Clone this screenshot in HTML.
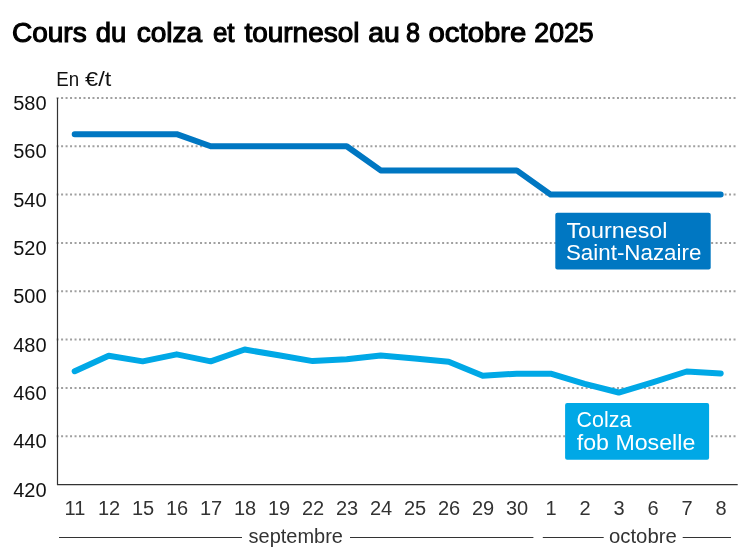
<!DOCTYPE html>
<html><head><meta charset="utf-8">
<style>
html,body{margin:0;padding:0;background:#fff;}
body{width:747px;height:558px;overflow:hidden;position:relative;}
svg{position:absolute;left:0;top:0;will-change:transform;}
text{font-family:"Liberation Sans",sans-serif;}
.title{font-size:27.5px;fill:#000;stroke:#000;stroke-width:1.1px;}
.unit{font-size:20px;fill:#111;}
.yl{font-size:20px;fill:#111;text-anchor:end;}
.xl{font-size:20px;fill:#333;text-anchor:middle;}
.ml{font-size:20px;fill:#333;}
.g{stroke:#a0a0a0;stroke-width:2;stroke-dasharray:2 2.483;}
.lab{font-size:21.5px;fill:#fff;}
</style></head><body>
<svg width="747" height="558" viewBox="0 0 747 558">
<line x1="56.6" y1="97.90" x2="737" y2="97.90" class="g"/>
<line x1="56.6" y1="146.24" x2="737" y2="146.24" class="g"/>
<line x1="56.6" y1="194.58" x2="737" y2="194.58" class="g"/>
<line x1="56.6" y1="242.91" x2="737" y2="242.91" class="g"/>
<line x1="56.6" y1="291.25" x2="737" y2="291.25" class="g"/>
<line x1="56.6" y1="339.59" x2="737" y2="339.59" class="g"/>
<line x1="56.6" y1="387.93" x2="737" y2="387.93" class="g"/>
<line x1="56.6" y1="436.26" x2="737" y2="436.26" class="g"/>

<text x="46.6" y="110.00" class="yl">580</text>
<text x="46.6" y="158.34" class="yl">560</text>
<text x="46.6" y="206.68" class="yl">540</text>
<text x="46.6" y="255.01" class="yl">520</text>
<text x="46.6" y="303.35" class="yl">500</text>
<text x="46.6" y="351.69" class="yl">480</text>
<text x="46.6" y="400.03" class="yl">460</text>
<text x="46.6" y="448.36" class="yl">440</text>
<text x="46.6" y="496.70" class="yl">420</text>

<line x1="57.5" y1="98" x2="57.5" y2="485" stroke="#333" stroke-width="1.2"/>
<line x1="57" y1="484.6" x2="737.7" y2="484.6" stroke="#333" stroke-width="1.4"/>
<polyline points="74.70,134.15 108.70,134.15 142.70,134.15 176.70,134.15 210.70,146.24 244.70,146.24 278.70,146.24 312.70,146.24 346.70,146.24 380.70,170.41 414.70,170.41 448.70,170.41 482.70,170.41 516.70,170.41 550.70,194.58 584.70,194.58 618.70,194.58 652.70,194.58 686.70,194.58 720.70,194.58" fill="none" stroke="#0077C2" stroke-width="6" stroke-linejoin="round" stroke-linecap="round"/>
<polyline points="74.70,371.25 108.70,355.78 142.70,361.34 176.70,354.33 210.70,361.34 244.70,349.50 278.70,355.30 312.70,361.10 346.70,359.16 380.70,355.54 414.70,358.44 448.70,361.82 482.70,375.84 516.70,373.67 550.70,373.67 584.70,383.82 618.70,392.52 652.70,382.37 686.70,371.49 720.70,373.42" fill="none" stroke="#00A8E6" stroke-width="6" stroke-linejoin="round" stroke-linecap="round"/>
<rect x="555.3" y="212.8" width="155.4" height="56.8" rx="2" fill="#0077C2"/>
<rect x="565.1" y="403.1" width="144.0" height="56.7" rx="2" fill="#00A8E6"/>
<text x="75.00" y="514.5" class="xl">11</text>
<text x="109.00" y="514.5" class="xl">12</text>
<text x="143.00" y="514.5" class="xl">15</text>
<text x="177.00" y="514.5" class="xl">16</text>
<text x="211.00" y="514.5" class="xl">17</text>
<text x="245.00" y="514.5" class="xl">18</text>
<text x="279.00" y="514.5" class="xl">19</text>
<text x="313.00" y="514.5" class="xl">22</text>
<text x="347.00" y="514.5" class="xl">23</text>
<text x="381.00" y="514.5" class="xl">24</text>
<text x="415.00" y="514.5" class="xl">25</text>
<text x="449.00" y="514.5" class="xl">26</text>
<text x="483.00" y="514.5" class="xl">29</text>
<text x="517.00" y="514.5" class="xl">30</text>
<text x="551.00" y="514.5" class="xl">1</text>
<text x="585.00" y="514.5" class="xl">2</text>
<text x="619.00" y="514.5" class="xl">3</text>
<text x="653.00" y="514.5" class="xl">6</text>
<text x="687.00" y="514.5" class="xl">7</text>
<text x="721.00" y="514.5" class="xl">8</text>

<line x1="59" y1="537.5" x2="242" y2="537.5" stroke="#333" stroke-width="1.2"/>
<line x1="350" y1="537.5" x2="533.4" y2="537.5" stroke="#333" stroke-width="1.2"/>
<line x1="542.8" y1="537.5" x2="603.7" y2="537.5" stroke="#333" stroke-width="1.2"/>
<line x1="682.7" y1="537.5" x2="731" y2="537.5" stroke="#333" stroke-width="1.2"/>
<text x="11.94" y="42.4" class="title" textLength="74.73" lengthAdjust="spacingAndGlyphs">Cours</text>
<text x="95.70" y="42.4" class="title" textLength="30.49" lengthAdjust="spacingAndGlyphs">du</text>
<text x="136.69" y="42.4" class="title" textLength="65.55" lengthAdjust="spacingAndGlyphs">colza</text>
<text x="212.93" y="42.4" class="title" textLength="21.58" lengthAdjust="spacingAndGlyphs">et</text>
<text x="244.45" y="42.4" class="title" textLength="114.96" lengthAdjust="spacingAndGlyphs">tournesol</text>
<text x="368.23" y="42.4" class="title" textLength="31.50" lengthAdjust="spacingAndGlyphs">au</text>
<text x="405.91" y="42.4" class="title" textLength="13.99" lengthAdjust="spacingAndGlyphs">8</text>
<text x="428.57" y="42.4" class="title" textLength="97.71" lengthAdjust="spacingAndGlyphs">octobre</text>
<text x="534.37" y="42.4" class="title" textLength="59.29" lengthAdjust="spacingAndGlyphs">2025</text>
<text x="56.36" y="86.4" class="unit" textLength="22.88" lengthAdjust="spacingAndGlyphs">En</text>
<text x="85.11" y="86.4" class="unit" textLength="26.19" lengthAdjust="spacingAndGlyphs">€/t</text>
<text x="566.46" y="237.5" class="lab" textLength="101.05" lengthAdjust="spacingAndGlyphs">Tournesol</text>
<text x="565.96" y="260.1" class="lab" textLength="135.38" lengthAdjust="spacingAndGlyphs">Saint-Nazaire</text>
<text x="576.60" y="427.2" class="lab" textLength="54.77" lengthAdjust="spacingAndGlyphs">Colza</text>
<text x="576.73" y="450.1" class="lab" textLength="118.60" lengthAdjust="spacingAndGlyphs">fob Moselle</text>
<text x="248.60" y="543.3" class="ml" textLength="94.40" lengthAdjust="spacingAndGlyphs">septembre</text>
<text x="609.04" y="543.3" class="ml" textLength="67.75" lengthAdjust="spacingAndGlyphs">octobre</text>

</svg>
</body></html>
